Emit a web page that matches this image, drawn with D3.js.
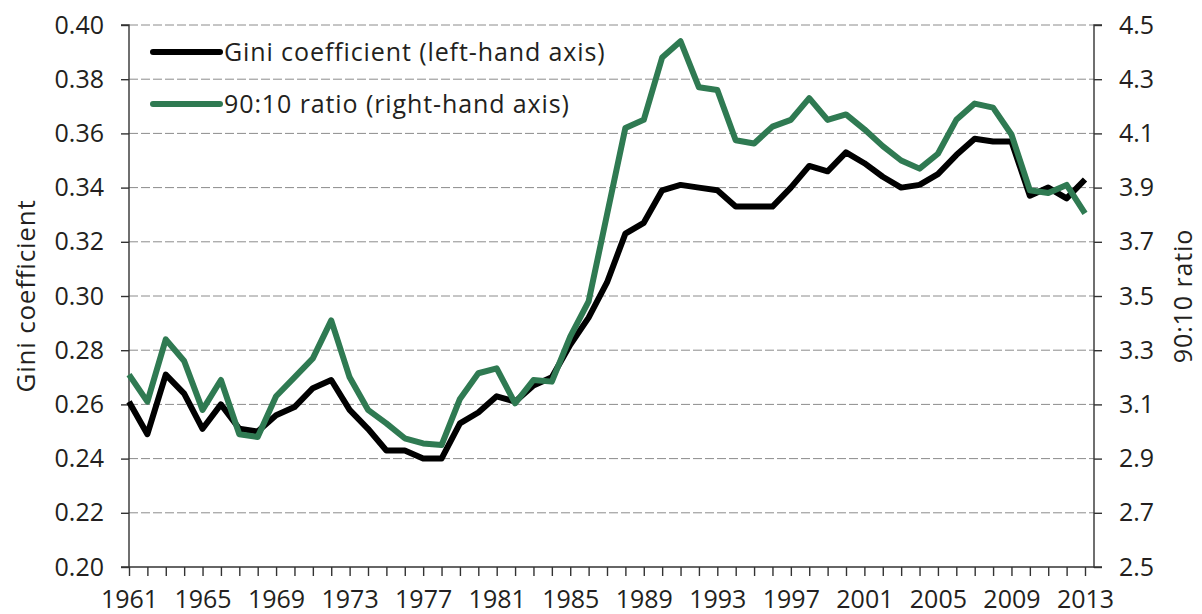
<!DOCTYPE html>
<html>
<head>
<meta charset="utf-8">
<script src="https://cdn.jsdelivr.net/npm/d3@7"></script>
<style>
  body { margin: 0; background: #fff; }
  svg text { font-family: "Open Sans", "Noto Sans", sans-serif; fill: #231f20; }
  .grid line { stroke: #8c8c8c; stroke-width: 1; stroke-dasharray: 9,3; }
  .axis path, .axis line { stroke: #333; stroke-width: 1.4; }
</style>
</head>
<body>
<div class="chart"></div>
<script>
var years = d3.range(1961, 2014);

var gini = [
  0.261, 0.249, 0.271, 0.264, 0.251, 0.260, 0.251, 0.250, 0.256, 0.259,
  0.266, 0.269, 0.258, 0.251, 0.243, 0.243, 0.240, 0.240, 0.253, 0.257,
  0.263, 0.261, 0.267, 0.270, 0.282, 0.292, 0.305, 0.323, 0.327, 0.339,
  0.341, 0.340, 0.339, 0.333, 0.333, 0.333, 0.340, 0.348, 0.346, 0.353,
  0.349, 0.344, 0.340, 0.341, 0.345, 0.352, 0.358, 0.357, 0.357, 0.337,
  0.340, 0.336, 0.343
];

var ratio9010 = [
  3.21, 3.11, 3.34, 3.26, 3.08, 3.19, 2.99, 2.98, 3.13, 3.20,
  3.27, 3.41, 3.20, 3.08, 3.03, 2.975, 2.956, 2.95, 3.12, 3.215,
  3.233, 3.104, 3.19, 3.184, 3.35, 3.48, 3.80, 4.12, 4.15, 4.38,
  4.44, 4.27, 4.26, 4.075, 4.063, 4.125, 4.15, 4.23, 4.15, 4.17,
  4.115, 4.053, 4.00, 3.97, 4.025, 4.15, 4.21, 4.195, 4.096, 3.89,
  3.88, 3.91, 3.805
];

var leftTicks = [0.20, 0.22, 0.24, 0.26, 0.28, 0.30, 0.32, 0.34, 0.36, 0.38, 0.40];
var rightTicks = [2.5, 2.7, 2.9, 3.1, 3.3, 3.5, 3.7, 3.9, 4.1, 4.3, 4.5];
var labelYears = d3.range(1961, 2014, 4);

var seriesNames = ['Gini coefficient (left-hand axis)', '90:10 ratio (right-hand axis)'];
var seriesColors = ['#000000', '#2f7a52'];

var W = 1202, H = 614;
var margin = { top: 25, left: 129, right: 108, bottom: 47 };
var width = W - margin.left - margin.right;
var height = H - margin.top - margin.bottom;

var svg = d3.select('.chart').append('svg')
  .attr('width', W)
  .attr('height', H);

var g = svg.append('g')
  .attr('transform', 'translate(' + margin.left + ',' + margin.top + ')');

// last year sits a little short of the right edge
var x = d3.scaleLinear().domain([1961, 2013]).range([0, width - 9]);
var yL = d3.scaleLinear().domain([0.20, 0.40]).range([height, 0]);
var yR = d3.scaleLinear().domain([2.5, 4.5]).range([height, 0]);

// gridlines
g.append('g')
  .attr('class', 'grid')
  .selectAll('line')
  .data(leftTicks.slice(1))
  .enter()
  .append('line')
  .attr('x1', 0)
  .attr('x2', width)
  .attr('y1', function (d) { return yL(d); })
  .attr('y2', function (d) { return yL(d); });

// axes
var leftAxis = g.append('g')
  .attr('class', 'axis')
  .call(d3.axisLeft(yL).tickValues(leftTicks).tickSize(8).tickPadding(17)
    .tickFormat(d3.format('.2f')));

var rightAxis = g.append('g')
  .attr('class', 'axis')
  .attr('transform', 'translate(' + width + ',0)')
  .call(d3.axisRight(yR).tickValues(rightTicks).tickSize(8).tickPadding(17)
    .tickFormat(d3.format('.1f')));

var bottomAxis = g.append('g')
  .attr('class', 'axis')
  .attr('transform', 'translate(0,' + height + ')')
  .call(d3.axisBottom(x).tickValues(years).tickSize(9).tickPadding(14)
    .tickFormat(function (d) { return labelYears.indexOf(d) >= 0 ? d : ''; }));

bottomAxis.select('.domain').attr('d', 'M0,0H' + width);
leftAxis.select('.domain').attr('d', 'M-8,0H0V' + height + 'H-8');
rightAxis.select('.domain').attr('d', 'M8,0H0V' + height + 'H8');

[leftAxis, rightAxis, bottomAxis].forEach(function (a) {
  a.selectAll('text').style('font-size', '25px').attr('fill', '#231f20');
});

// lines
var giniLine = d3.line()
  .x(function (d, i) { return x(years[i]); })
  .y(function (d) { return yL(d); });

var ratioLine = d3.line()
  .x(function (d, i) { return x(years[i]); })
  .y(function (d) { return yR(d); });

g.append('path')
  .datum(gini)
  .attr('d', giniLine)
  .attr('fill', 'none')
  .attr('stroke', seriesColors[0])
  .attr('stroke-width', 6)
  .attr('stroke-linejoin', 'round');

g.append('path')
  .datum(ratio9010)
  .attr('d', ratioLine)
  .attr('fill', 'none')
  .attr('stroke', seriesColors[1])
  .attr('stroke-width', 6)
  .attr('stroke-linejoin', 'round');

// legend
var legend = svg.selectAll('.legend')
  .data(seriesNames)
  .enter()
  .append('g')
  .attr('class', 'legend')
  .attr('transform', function (d, i) { return 'translate(153,' + (52 + i * 52) + ')'; });

legend.append('line')
  .attr('x1', 0)
  .attr('x2', 67)
  .attr('stroke', function (d, i) { return seriesColors[i]; })
  .attr('stroke-width', 6)
  .attr('stroke-linecap', 'round');

legend.append('text')
  .attr('x', 71)
  .attr('y', 9)
  .style('font-size', '25px')
  .style('letter-spacing', '0.9px')
  .text(function (d) { return d; });

// axis titles
svg.append('text')
  .attr('transform', 'translate(35,' + (margin.top + height / 2) + ') rotate(-90)')
  .attr('text-anchor', 'middle')
  .style('font-size', '26px')
  .style('letter-spacing', '0.8px')
  .text('Gini coefficient');

svg.append('text')
  .attr('transform', 'translate(1192,' + (margin.top + height / 2) + ') rotate(-90)')
  .attr('text-anchor', 'middle')
  .style('font-size', '25px')
  .style('letter-spacing', '0.9px')
  .text('90:10 ratio');
</script>
</body>
</html>
